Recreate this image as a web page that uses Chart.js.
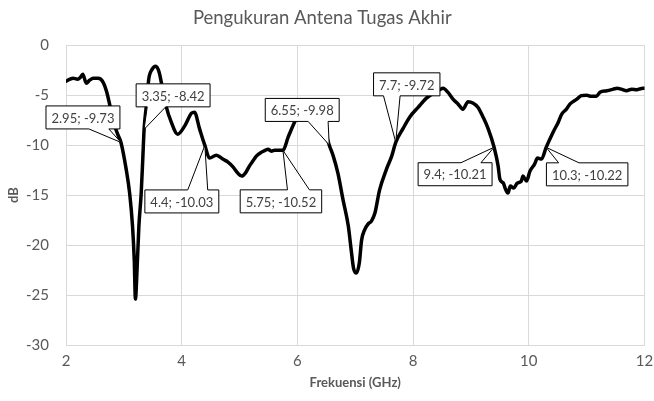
<!DOCTYPE html>
<html>
<head>
<meta charset="utf-8">
<script src="https://cdn.jsdelivr.net/npm/chart.js@4/dist/chart.umd.min.js"></script>
<style>
  body { margin: 0; background: #fff; }
  #wrap { width: 654px; height: 401px; }
</style>
</head>
<body>
<div id="wrap"><canvas id="chart" width="654" height="401"></canvas></div>
<script>
let freq = [2.00, 2.07, 2.12, 2.20, 2.25, 2.29, 2.35, 2.41, 2.47, 2.55, 2.60, 2.65, 2.70, 2.75, 2.81, 2.90,
  2.95, 3.04, 3.10, 3.15, 3.18, 3.20, 3.23, 3.26, 3.30, 3.33, 3.35, 3.39, 3.43, 3.49, 3.55, 3.61,
  3.67, 3.73, 3.82, 3.93, 4.05, 4.17, 4.22, 4.31, 4.40, 4.48, 4.60, 4.71, 4.80, 4.89, 4.97, 5.04,
  5.10, 5.17, 5.23, 5.29, 5.38, 5.45, 5.49, 5.55, 5.61, 5.68, 5.75, 5.84, 5.95, 6.05, 6.15, 6.25,
  6.35, 6.45, 6.55, 6.62, 6.70, 6.79, 6.88, 6.93, 6.97, 7.02, 7.07, 7.11, 7.16, 7.22, 7.28, 7.34,
  7.42, 7.54, 7.63, 7.70, 7.83, 7.94, 8.09, 8.23, 8.35, 8.45, 8.52, 8.60, 8.69, 8.78, 8.86, 8.95,
  9.04, 9.12, 9.21, 9.30, 9.40, 9.47, 9.50, 9.56, 9.59, 9.64, 9.68, 9.74, 9.80, 9.87, 9.90, 9.96,
  10.02, 10.10, 10.15, 10.22, 10.30, 10.42, 10.51, 10.57, 10.65, 10.71, 10.83, 10.91, 11.00, 11.06, 11.17, 11.23,
  11.35, 11.46, 11.53, 11.60, 11.69, 11.78, 11.87, 11.93, 12.00];
let dB = [-3.6, -3.4, -3.3, -3.4, -3.2, -2.9, -3.8, -3.5, -3.3, -3.3, -3.4, -3.8, -4.6, -5.8, -7.5, -9.0,
  -9.73, -12.4, -14.8, -18.1, -21.5, -25.4, -22.2, -18.1, -14.8, -11.0, -8.42, -6.0, -3.4, -2.4, -2.1, -2.7,
  -4.4, -6.1, -7.7, -8.9, -8.1, -6.8, -6.7, -8.4, -10.03, -11.3, -11.0, -11.4, -11.7, -12.2, -12.8, -13.1,
  -12.8, -12.1, -11.6, -11.1, -10.7, -10.5, -10.4, -10.6, -10.5, -10.5, -10.52, -9.2, -7.7, -6.6, -6.0, -6.0,
  -6.6, -8.0, -9.98, -11.1, -12.8, -15.5, -18.1, -20.5, -22.3, -22.8, -21.8, -19.5, -18.5, -17.9, -17.6, -16.8,
  -14.5, -12.4, -11.1, -9.72, -8.3, -7.2, -6.2, -5.3, -4.8, -4.5, -4.3, -4.7, -5.4, -5.9, -6.4, -5.65,
  -5.8, -6.2, -7.2, -8.4, -10.21, -12.1, -13.4, -13.8, -14.3, -14.8, -14.1, -14.3, -13.8, -13.6, -13.1, -13.6,
  -12.6, -11.9, -11.3, -11.4, -10.22, -8.7, -7.7, -6.9, -6.4, -5.9, -5.4, -5.05, -5.0, -5.1, -5.1, -4.7,
  -4.55, -4.4, -4.3, -4.4, -4.55, -4.4, -4.45, -4.35, -4.3];

// marked points (callouts)
let markX = [2.95, 3.35, 4.4, 5.75, 6.55, 7.7, 9.4, 10.3];
let markY = [-9.73, -8.42, -10.03, -10.52, -9.98, -9.72, -10.21, -10.22];

let xTicks = [2, 4, 6, 8, 10, 12];
let yTicks = [0, -5, -10, -15, -20, -25, -30];

// where each callout box sits, in pixels from its point (box centre)
let boxShift = [[-38, -25], [29, -34], [-23, 56], [-2, 51], [-27, -35], [11, -58], [-39, 27], [41, 27]];

let points = freq.map((f, i) => ({x: f, y: dB[i]}));

let callouts = {
  id: 'callouts',
  afterDatasetsDraw(chart) {
    let ctx = chart.ctx;
    let sx = chart.scales.x, sy = chart.scales.y;
    ctx.save();
    ctx.font = '13px Lato';
    ctx.textAlign = 'center';
    ctx.textBaseline = 'middle';
    markX.forEach((mx, i) => {
      let label = mx + '; ' + markY[i];
      let px = sx.getPixelForValue(mx), py = sy.getPixelForValue(markY[i]);
      let cx = px + boxShift[i][0], cy = py + boxShift[i][1];
      let w = ctx.measureText(label).width + 11, h = 23;
      let l = cx - w / 2, r = cx + w / 2, t = cy - h / 2, b = cy + h / 2;
      let f = px >= cx ? [0.58, 0.85] : [0.15, 0.40];
      let b1 = l + w * f[0], b2 = l + w * f[1];
      ctx.beginPath();
      if (py > b) {
        // wedge out of bottom edge
        ctx.moveTo(l, t); ctx.lineTo(r, t); ctx.lineTo(r, b);
        ctx.lineTo(b2, b); ctx.lineTo(px, py); ctx.lineTo(b1, b);
        ctx.lineTo(l, b);
      } else {
        ctx.moveTo(l, t); ctx.lineTo(b1, t); ctx.lineTo(px, py); ctx.lineTo(b2, t);
        ctx.lineTo(r, t); ctx.lineTo(r, b); ctx.lineTo(l, b);
      }
      ctx.closePath();
      ctx.fillStyle = '#fff';
      ctx.fill();
      ctx.lineWidth = 1;
      ctx.strokeStyle = '#000';
      ctx.stroke();
      ctx.fillStyle = '#404040';
      ctx.fillText(label, cx, cy + 1);
    });
    ctx.restore();
  }
};

let config = {
  type: 'scatter',
  data: {
    datasets: [{
      data: points,
      showLine: true,
      borderColor: '#000',
      borderWidth: 3.5,
      pointRadius: 0,
      cubicInterpolationMode: 'monotone',
      borderJoinStyle: 'round',
      borderCapStyle: 'round'
    }]
  },
  options: {
    responsive: false,
    animation: false,
    layout: {padding: {right: 9.5}},
    plugins: {
      legend: {display: false},
      tooltip: {enabled: false},
      title: {
        display: true,
        text: 'Pengukuran Antena Tugas Akhir',
        color: '#595959',
        font: {family: 'Lato', size: 18.5, weight: 'normal'},
        padding: {top: 7, bottom: 16}
      }
    },
    scales: {
      x: {
        type: 'linear',
        min: 2, max: 12,
        afterBuildTicks: s => { s.ticks = xTicks.map(v => ({value: v})); },
        afterFit: s => { s.height = 56; s.paddingRight = 0; s.paddingLeft = 0; },
        grid: {color: '#d9d9d9', drawTicks: false},
        border: {color: '#d9d9d9'},
        ticks: {color: '#595959', font: {family: 'Lato', size: 15}, padding: 7},
        title: {display: true, text: 'Frekuensi (GHz)', color: '#595959',
          font: {family: 'Lato', size: 13, weight: 'bold'}, padding: {bottom: 10}}
      },
      y: {
        min: -30, max: 0,
        afterBuildTicks: s => { s.ticks = yTicks.map(v => ({value: v})); },
        afterFit: s => { s.width = 66; },
        grid: {color: '#d9d9d9', drawTicks: false},
        border: {color: '#d9d9d9'},
        ticks: {color: '#595959', font: {family: 'Lato', size: 15}, padding: 17},
        title: {display: true, text: 'dB', color: '#595959',
          font: {family: 'Lato', size: 13, weight: 'bold'}, padding: {top: 6}}
      }
    }
  },
  plugins: [callouts]
};

let chart = new Chart(document.getElementById('chart').getContext('2d'), config);
</script>
</body>
</html>
